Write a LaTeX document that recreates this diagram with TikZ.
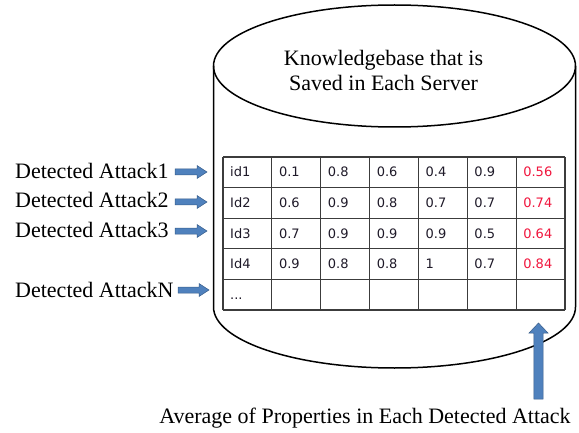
\documentclass[tikz,border=0pt]{standalone}
\usepackage{fontspec}
\setmainfont{Liberation Serif}
\newfontfamily\cellfont{DejaVu Sans}
\usetikzlibrary{calc}
\definecolor{arrowfill}{RGB}{79,129,189}
\definecolor{arrowline}{RGB}{56,93,138}
\definecolor{avgred}{RGB}{240,20,60}
\definecolor{gridgray}{RGB}{60,60,60}
\definecolor{celltext}{RGB}{30,25,40}
\begin{document}
\begin{tikzpicture}[x=1pt,y=1pt,
  cyl/.style={line width=1.5pt,black},
  gridline/.style={line width=1.1pt,gridgray},
  label/.style={font=\fontsize{22}{25}\selectfont,inner sep=0pt},
  cell/.style={font=\cellfont\fontsize{13}{14}\selectfont,inner sep=0pt,anchor=base west,text=celltext},
  avg/.style={cell,text=avgred},
  blockarrow/.style={fill=arrowfill,draw=arrowline,line width=0.5pt,line join=miter}
]
\useasboundingbox (0,0) rectangle (579,432);
% cylinder
\draw[cyl] (213.5,125) -- (213.5,366) (575.5,366) -- (575.5,125)
  (213.5,125) arc[start angle=180,end angle=360,x radius=181,y radius=61];
\draw[cyl] (394.5,366) ellipse[x radius=181,y radius=61];
\node[label,align=center] (title) at (383.5,362) {Knowledgebase that is\\Saved in Each Server};
% table grid
\foreach \i in {0,...,7} \draw[gridline] ({223+48.857*\i},122) -- ({223+48.857*\i},275);
\foreach \j in {0,...,5} \draw[gridline] (223,{122+30.6*\j}) -- (565,{122+30.6*\j});
% cell contents
\foreach \r/\row in {1/{id1,0.1,0.8,0.6,0.4,0.9},2/{Id2,0.6,0.9,0.8,0.7,0.7},3/{Id3,0.7,0.9,0.9,0.9,0.5},4/{Id4,0.9,0.8,0.8,1,0.7}}{
  \foreach \v [count=\c] in \row
    \node[cell] (c\r-\c) at ({223+48.857*(\c-1)+7},{275-30.6*(\r-0.5)-4.7}) {\v};
}
\foreach \r/\v in {1/0.56,2/0.74,3/0.64,4/0.84}
  \node[avg] (c\r-7) at ({223+48.857*6+7},{275-30.6*(\r-0.5)-4.7}) {\v};
\node[cell] (c5-1) at (230,{275-30.6*4.5-4.7}) {...};
% left labels
\node[label,anchor=base west] (la1) at (15,254) {Detected Attack1};
\node[label,anchor=base west] (la2) at (15,224) {Detected Attack2};
\node[label,anchor=base west] (la3) at (15,194) {Detected Attack3};
\node[label,anchor=base west] (laN) at (15,135) {Detected AttackN};
% left arrows
\foreach \n/\xt/\xh/\y in {1/175/207/260,2/175/207/230,3/175/207/201,N/178/209/142}{
  \coordinate (t\n) at (\xt,\y);
  \coordinate (h\n) at (\xh,\y);
  \draw[blockarrow] ($(t\n)+(0,3)$) -- ($(h\n)+(-10,3)$) -- ($(h\n)+(-10,6.5)$) -- (h\n)
    -- ($(h\n)+(-10,-6.5)$) -- ($(h\n)+(-10,-3)$) -- ($(t\n)+(0,-3)$) -- cycle;
}
% bottom label and up arrow
\node[label,anchor=base] (avglabel) at (365,9) {Average of Properties in Each Detected Attack};
\coordinate (ut) at (538.5,33);
\coordinate (uh) at (538.5,109);
\draw[blockarrow] ($(ut)+(-4.6,0)$) -- ($(uh)+(-4.6,-10)$) -- ($(uh)+(-9.5,-10)$) -- (uh)
  -- ($(uh)+(9.5,-10)$) -- ($(uh)+(4.6,-10)$) -- ($(ut)+(4.6,0)$) -- cycle;
\end{tikzpicture}
\end{document}
